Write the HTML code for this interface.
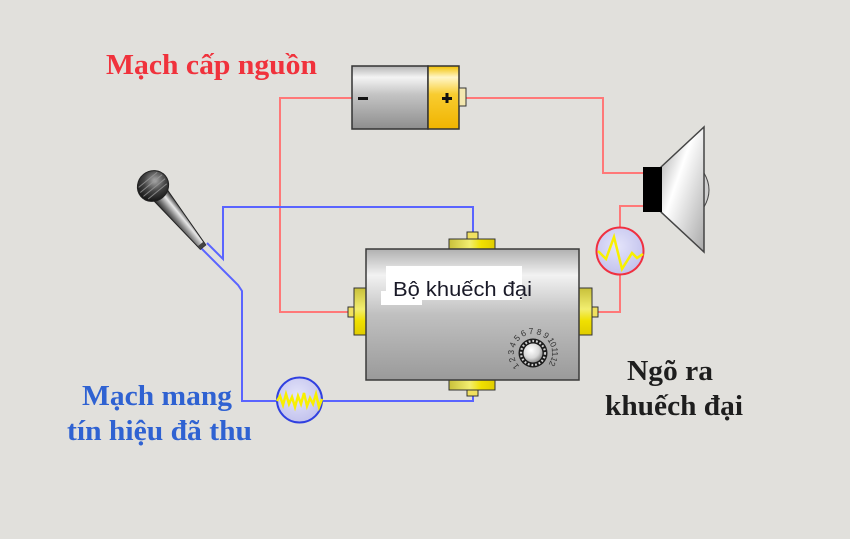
<!DOCTYPE html>
<html>
<head>
<meta charset="utf-8">
<style>
  html,body{margin:0;padding:0;background:#e1e0dc;}
  svg{display:block;}
</style>
</head>
<body>
<svg width="850" height="539" viewBox="0 0 850 539" xmlns="http://www.w3.org/2000/svg">
  <defs>
    <linearGradient id="grayV" x1="0" y1="0" x2="0" y2="1">
      <stop offset="0" stop-color="#b4b4b4"/>
      <stop offset="0.18" stop-color="#f4f4f4"/>
      <stop offset="0.45" stop-color="#c4c4c4"/>
      <stop offset="1" stop-color="#8e8e8e"/>
    </linearGradient>
    <linearGradient id="ampV" x1="0" y1="0" x2="0" y2="1">
      <stop offset="0" stop-color="#b0b0b0"/>
      <stop offset="0.2" stop-color="#f2f2f2"/>
      <stop offset="0.5" stop-color="#c0c0c0"/>
      <stop offset="1" stop-color="#9a9a9a"/>
    </linearGradient>
    <linearGradient id="yelV" x1="0" y1="0" x2="0" y2="1">
      <stop offset="0" stop-color="#f2c000"/>
      <stop offset="0.18" stop-color="#fff6c8"/>
      <stop offset="0.45" stop-color="#f8cc30"/>
      <stop offset="1" stop-color="#f0b400"/>
    </linearGradient>
    <linearGradient id="conH" x1="0" y1="0" x2="1" y2="0">
      <stop offset="0" stop-color="#c8c03a"/>
      <stop offset="0.45" stop-color="#f2ee70"/>
      <stop offset="0.7" stop-color="#f0e000"/>
      <stop offset="1" stop-color="#e0cc00"/>
    </linearGradient>
    <linearGradient id="conV" x1="0" y1="0" x2="0" y2="1">
      <stop offset="0" stop-color="#c8c03a"/>
      <stop offset="0.45" stop-color="#f2ee70"/>
      <stop offset="0.7" stop-color="#f0e000"/>
      <stop offset="1" stop-color="#e0cc00"/>
    </linearGradient>
    <linearGradient id="cone" x1="0" y1="0" x2="1" y2="1">
      <stop offset="0" stop-color="#9a9a9a"/>
      <stop offset="0.4" stop-color="#ffffff"/>
      <stop offset="1" stop-color="#a8a8a8"/>
    </linearGradient>
    <radialGradient id="ball" cx="0.4" cy="0.35" r="0.7">
      <stop offset="0" stop-color="#ffffff"/>
      <stop offset="0.6" stop-color="#d8d8d8"/>
      <stop offset="1" stop-color="#888"/>
    </radialGradient>
    <radialGradient id="micHead" cx="0.4" cy="0.35" r="0.7">
      <stop offset="0" stop-color="#aaa"/>
      <stop offset="0.5" stop-color="#444"/>
      <stop offset="1" stop-color="#111"/>
    </radialGradient>
    <linearGradient id="micBody" x1="0" y1="0" x2="0" y2="1">
      <stop offset="0" stop-color="#222"/>
      <stop offset="0.35" stop-color="#e8e8e8"/>
      <stop offset="0.7" stop-color="#777"/>
      <stop offset="1" stop-color="#222"/>
    </linearGradient>
    <radialGradient id="sig" cx="0.45" cy="0.4" r="0.65">
      <stop offset="0" stop-color="#e4e4fa"/>
      <stop offset="1" stop-color="#c0c0ec"/>
    </radialGradient>
  </defs>

  <rect x="0" y="0" width="850" height="539" fill="#e1e0dc"/>

  <!-- RED wires -->
  <g fill="none" stroke="#ff7878" stroke-width="2">
    <polyline points="352,98 280,98 280,312 348,312"/>
    <polyline points="466,98 603,98 603,173 643,173"/>
    <polyline points="643,206 620,206 620,228"/>
    <polyline points="620,275 620,312 598,312"/>
  </g>

  <!-- BLUE wires -->
  <g fill="none" stroke="#5a64ff" stroke-width="2">
    <polyline points="207,243 223,259 223,207 473,207 473,233"/>
    <polyline points="201,248 238,285 242,291 242,401 277,401"/>
    <polyline points="322,401 473,401 473,395"/>
  </g>

  <!-- Battery -->
  <rect x="352" y="66" width="76" height="63" fill="url(#grayV)" stroke="#333" stroke-width="1.5"/>
  <rect x="428" y="66" width="31" height="63" fill="url(#yelV)" stroke="#333" stroke-width="1.5"/>
  <rect x="459" y="88" width="7" height="18" fill="#f4e8b0" stroke="#333" stroke-width="1"/>
  <rect x="358" y="97" width="10" height="3" fill="#111"/>
  <rect x="442" y="97" width="10" height="3" fill="#111"/>
  <rect x="445.5" y="93" width="3" height="10" fill="#111"/>

  <!-- Speaker -->
  <path d="M704,173 Q714,190 704,207" fill="#d0d0d0" stroke="#444" stroke-width="1"/>
  <polygon points="661,167 704,127 704,252 661,212" fill="url(#cone)" stroke="#444" stroke-width="1.5"/>
  <rect x="643" y="167" width="19" height="45" fill="#000"/>

  <!-- Red signal circle -->
  <circle cx="620" cy="251" r="23.5" fill="url(#sig)" stroke="#f03040" stroke-width="2"/>
  <polyline points="598,251 606,259 614,237 622,269 632,253 637,258 643,254" fill="none" stroke="#f8f000" stroke-width="2.5" stroke-linejoin="miter"/>

  <!-- Blue signal circle -->
  <circle cx="299.5" cy="400" r="22.5" fill="url(#sig)" stroke="#3040e0" stroke-width="2"/>
  <polyline points="277,401 280,396 283,405 286,394 289,404 292,397 295,407 298,396 301,404 304,393 307,406 310,398 313,404 316,394 319,407 322,399" fill="none" stroke="#f8f000" stroke-width="2.5"/>

  <!-- Amplifier connectors -->
  <rect x="449" y="239" width="46" height="10" fill="url(#conH)" stroke="#333" stroke-width="1"/>
  <rect x="467" y="232" width="11" height="7" fill="#f0e060" stroke="#333" stroke-width="1"/>
  <rect x="449" y="380" width="46" height="10" fill="url(#conH)" stroke="#333" stroke-width="1"/>
  <rect x="467" y="390" width="11" height="6" fill="#f0e060" stroke="#333" stroke-width="1"/>
  <rect x="354" y="288" width="12" height="47" fill="url(#conV)" stroke="#333" stroke-width="1"/>
  <rect x="348" y="307" width="6" height="10" fill="#f0e060" stroke="#333" stroke-width="1"/>
  <rect x="579" y="288" width="13" height="47" fill="url(#conV)" stroke="#333" stroke-width="1"/>
  <rect x="592" y="307" width="6" height="10" fill="#f0e060" stroke="#333" stroke-width="1"/>

  <!-- Amplifier body -->
  <rect x="366" y="249" width="213" height="131" fill="url(#ampV)" stroke="#3a3a3a" stroke-width="1.5"/>
  <rect x="386" y="266" width="136" height="34" fill="#fff"/>
  <rect x="381" y="291" width="41" height="14" fill="#fff"/>
  <text x="393" y="296" font-family="'Liberation Sans', sans-serif" font-size="20" fill="#1a1a28" textLength="139" lengthAdjust="spacingAndGlyphs">Bộ khuếch đại</text>

  <!-- Knob -->
  <g font-family="'Liberation Sans', sans-serif" font-size="8.5" fill="#333" text-anchor="middle">
    <text transform="translate(533,353) rotate(232) translate(0,-19)">1</text>
    <text transform="translate(533,353) rotate(252) translate(0,-19)">2</text>
    <text transform="translate(533,353) rotate(272) translate(0,-19)">3</text>
    <text transform="translate(533,353) rotate(292) translate(0,-19)">4</text>
    <text transform="translate(533,353) rotate(313) translate(0,-19)">5</text>
    <text transform="translate(533,353) rotate(334) translate(0,-19)">6</text>
    <text transform="translate(533,353) rotate(355) translate(0,-19)">7</text>
    <text transform="translate(533,353) rotate(376) translate(0,-19)">8</text>
    <text transform="translate(533,353) rotate(397) translate(0,-19)">9</text>
    <text transform="translate(533,353) rotate(421) translate(0,-19)">10</text>
    <text transform="translate(533,353) rotate(447) translate(0,-19)">11</text>
    <text transform="translate(533,353) rotate(473) translate(0,-19)">12</text>
  </g>
  <circle cx="533" cy="353" r="14.5" fill="#1a1a1a"/>
  <circle cx="533" cy="353" r="12" fill="none" stroke="#cfcfcf" stroke-width="2.2" stroke-dasharray="1.8 1.9"/>
  <circle cx="533" cy="353" r="9.5" fill="url(#ball)"/>

  <!-- Microphone -->
  <g transform="translate(153,186) rotate(50.7)">
    <polygon points="8,-9 79,-3.5 79,3.5 8,9" fill="url(#micBody)" stroke="#222" stroke-width="1"/>
    <rect x="75" y="-3.5" width="4" height="7" fill="#444"/>
    <ellipse cx="0" cy="0" rx="15" ry="16" fill="url(#micHead)" stroke="#222" stroke-width="1"/>
    <g stroke="#999" stroke-width="1" opacity="0.8">
      <line x1="-8" y1="-12" x2="-8" y2="12"/>
      <line x1="-3" y1="-14" x2="-3" y2="14"/>
      <line x1="2" y1="-14" x2="2" y2="14"/>
      <line x1="7" y1="-12" x2="7" y2="12"/>
    </g>
  </g>

  <!-- Labels -->
  <g font-family="'Liberation Serif', 'Noto Serif CJK SC', serif" font-weight="bold" font-size="28">
    <text x="106" y="74" fill="#f0323c" textLength="211" lengthAdjust="spacingAndGlyphs">Mạch cấp nguồn</text>
    <text x="82" y="405" fill="#2f62d2" textLength="150" lengthAdjust="spacingAndGlyphs">Mạch mang</text>
    <text x="67" y="440" fill="#2f62d2" textLength="185" lengthAdjust="spacingAndGlyphs">tín hiệu đã thu</text>
    <text x="627" y="380" fill="#1e1e1e" textLength="86" lengthAdjust="spacingAndGlyphs">Ngõ ra</text>
    <text x="605" y="415" fill="#1e1e1e" textLength="138" lengthAdjust="spacingAndGlyphs">khuếch đại</text>
  </g>
</svg>
</body>
</html>
